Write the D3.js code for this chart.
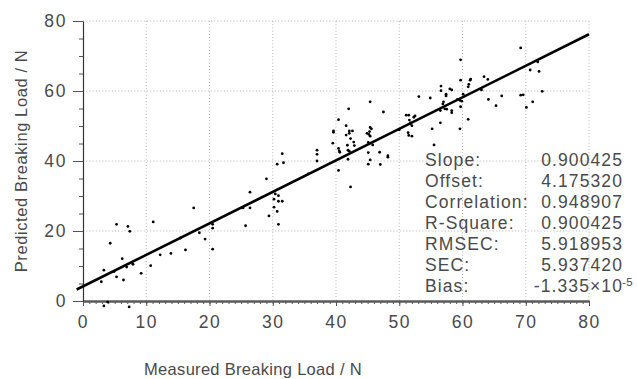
<!DOCTYPE html>
<html>
<head>
<meta charset="utf-8">
<script src="https://cdn.jsdelivr.net/npm/d3@7"></script>
<style>
  body { margin: 0; background: #fff; }
  text { font-family: "Liberation Sans", Arial, sans-serif; fill: #4a4a4a; }
</style>
</head>
<body>
<div id="chart"></div>
<script>

// --------------------------------------
//  Data
// --------------------------------------

// measured vs predicted breaking load (N)
const measured = [
  2.9, 3.3, 4.3, 5.3, 4.9, 5.3, 6.2, 6.4, 6.9, 7.1, 7.4, 7.9, 9.2, 10.7, 11.1, 12.2, 13.9, 15.4, 16.2, 17.5,
  18.4, 19.3, 20.5, 20.5, 20.5, 3.3, 3.9, 7.3,
  31.5, 30.7, 31.7, 37.0, 37.0, 37.0, 29.0, 26.4, 30.4, 30.9, 30.2, 30.9, 31.5, 25.3, 26.4, 30.2, 30.7, 29.4,
  25.7, 30.9, 35.6,
  45.4, 42.0, 47.5, 53.1, 40.4, 41.6, 39.6, 39.6, 42.1, 42.6, 42.1, 45.4, 45.6, 45.3, 44.9, 45.2, 45.4, 39.5,
  41.6, 42.3, 42.8, 42.9, 41.8, 40.4, 40.5, 40.6, 41.9, 42.1, 45.1, 45.8, 45.1, 46.9, 48.2, 48.2, 45.4, 45.1,
  47.0, 41.9, 40.4, 42.3, 50.0, 51.1, 51.5, 51.6, 51.8, 52.0, 51.4, 51.5, 52.0, 52.5,
  59.7, 59.7, 61.2, 61.3, 61.0, 60.9, 63.4, 64.0, 56.6, 56.6, 58.0, 58.3, 57.4, 57.4, 54.9, 63.0, 60.1, 64.1,
  65.3, 57.0, 56.9, 59.2, 59.6, 59.9, 59.7, 57.2, 57.5, 58.3, 58.3, 56.5, 52.3, 51.7, 55.2, 56.5, 59.6, 60.9,
  55.5,
  69.2, 71.9, 70.7, 72.1, 72.6, 66.2, 69.2, 69.6, 71.1, 70.1
];

const predicted = [
  5.5, 8.8, 16.5, 21.9, 8.4, 6.9, 12.1, 6.0, 9.7, 21.3, 19.9, 10.5, 7.9, 10.1, 22.6, 13.2, 13.6, 18.0, 14.6, 26.6,
  19.5, 17.7, 21.9, 20.8, 14.8, -1.4, -0.3, -1.7,
  42.1, 39.1, 39.5, 43.1, 41.9, 40.0, 34.9, 31.1, 30.6, 30.1, 29.1, 28.5, 28.5, 26.6, 26.6, 26.8, 25.6, 24.3,
  21.5, 21.9, 36.3,
  56.9, 54.9, 54.0, 58.4, 51.8, 50.1, 48.6, 48.2, 48.6, 48.6, 47.9, 49.6, 49.2, 48.4, 47.9, 47.6, 47.1, 45.1,
  47.4, 46.4, 45.4, 44.4, 44.5, 43.6, 42.9, 42.5, 43.1, 42.8, 45.3, 44.6, 42.4, 42.5, 41.5, 41.1, 40.3, 39.1,
  39.0, 40.5, 37.3, 32.6, 48.9, 53.1, 53.1, 51.7, 50.9, 50.1, 48.1, 47.3, 47.1, 52.9,
  68.9, 63.1, 63.1, 63.4, 61.9, 61.2, 64.1, 63.3, 61.4, 60.1, 60.6, 60.3, 59.1, 58.6, 58.0, 60.3, 59.1, 57.6,
  55.8, 56.9, 56.3, 57.6, 57.3, 57.1, 55.5, 54.9, 54.8, 54.4, 53.8, 54.4, 52.5, 50.6, 49.2, 50.9, 49.2, 51.9,
  44.6,
  72.3, 68.3, 66.0, 65.6, 59.9, 58.6, 58.8, 58.9, 56.9, 55.3
];

const slope = 0.900425;
const offset = 4.175320;
const fitRange = [-1, 80];

const statLabels = ["Slope:", "Offset:", "Correlation:", "R-Square:", "RMSEC:", "SEC:", "Bias:"];
const statValues = ["0.900425", "4.175320", "0.948907", "0.900425", "5.918953", "5.937420", "-1.335×10"];
const biasExponent = "-5";

const xMajor = [0, 10, 20, 30, 40, 50, 60, 70, 80];
const yMajor = [0, 20, 40, 60, 80];

const xTitle = "Measured Breaking Load / N";
const yTitle = "Predicted Breaking Load / N";

// --------------------------------------
//  Canvas
// --------------------------------------

const width = 637;
const height = 379;
const margin = {top: 21, right: 48, bottom: 78, left: 83};
const innerwidth = width - margin.left - margin.right;
const innerheight = height - margin.top - margin.bottom;

const svg = d3.select("#chart")
  .append("svg")
    .attr("width", width)
    .attr("height", height)
    .attr("viewBox", [0, 0, width, height]);

const innerChart = svg
  .append("g")
    .attr("transform", `translate(${margin.left}, ${margin.top})`);

// --------------------------------------
// Scales
// --------------------------------------

const x = d3.scaleLinear([0, 80], [0, innerwidth]);
const y = d3.scaleLinear([0, 80], [innerheight, 0]);

// --------------------------------------
// Grid
// --------------------------------------

innerChart.append("g")
  .selectAll("line")
  .data(xMajor.slice(1))
  .join("line")
    .attr("x1", d => x(d)).attr("x2", d => x(d))
    .attr("y1", 0).attr("y2", innerheight)
    .attr("stroke", "#b4b4b4")
    .attr("stroke-dasharray", "1,2.2");

innerChart.append("g")
  .selectAll("line")
  .data(yMajor.slice(1))
  .join("line")
    .attr("x1", 0).attr("x2", innerwidth)
    .attr("y1", d => y(d)).attr("y2", d => y(d))
    .attr("stroke", "#b4b4b4")
    .attr("stroke-dasharray", "1,2.2");

// --------------------------------------
//  Axes
// --------------------------------------

// minor ticks first
innerChart.append("g")
    .attr("transform", `translate(0, ${innerheight})`)
    .call(d3.axisBottom(x).tickValues(d3.range(0, 81, 1)).tickSize(3).tickFormat(""))
    .call(g => g.select(".domain").remove())
    .call(g => g.selectAll("line").attr("stroke", "#555"));

innerChart.append("g")
    .call(d3.axisLeft(y).tickValues(d3.range(0, 81, 5)).tickSize(4).tickFormat(""))
    .call(g => g.select(".domain").remove())
    .call(g => g.selectAll("line").attr("stroke", "#555"));

const xAxis = innerChart.append("g")
    .attr("class", "x-axis")
    .attr("transform", `translate(0, ${innerheight})`)
    .call(d3.axisBottom(x).tickValues(xMajor).tickSize(5).tickSizeOuter(0).tickPadding(10));

xAxis.select(".domain").attr("stroke", "#5a5a5a").attr("stroke-width", 2.5);
xAxis.selectAll("line").attr("stroke", "#555");
xAxis.selectAll("text")
    .attr("font-size", 17.5)
    .attr("letter-spacing", 1.6)
    .attr("fill", "#4a4a4a")
    .attr("font-family", null);

const yAxis = innerChart.append("g")
    .attr("class", "y-axis")
    .call(d3.axisLeft(y).tickValues(yMajor).tickSize(10).tickSizeOuter(0).tickPadding(6));

yAxis.select(".domain").attr("stroke", "#333").attr("stroke-width", 1.2);
yAxis.selectAll("line").attr("stroke", "#555");
yAxis.selectAll("text")
    .attr("font-size", 17.5)
    .attr("letter-spacing", 1.6)
    .attr("fill", "#4a4a4a")
    .attr("font-family", null);

svg.append("text")
    .attr("x", 253)
    .attr("y", 375)
    .attr("text-anchor", "middle")
    .attr("font-size", 16.5)
    .attr("letter-spacing", 0.3)
    .text(xTitle);

svg.append("text")
    .attr("transform", `translate(27, ${margin.top + innerheight / 2}) rotate(-90)`)
    .attr("text-anchor", "middle")
    .attr("font-size", 16.5)
    .attr("letter-spacing", 0.6)
    .text(yTitle);

// --------------------------------------
// Fit line and points
// --------------------------------------

const line = d3.line()
    .x(d => x(d))
    .y(d => y(slope * d + offset));

innerChart.append("path")
    .attr("d", line(fitRange))
    .attr("fill", "none")
    .attr("stroke", "#000")
    .attr("stroke-width", 2.6);

innerChart.append("g")
  .selectAll("circle")
  .data(d3.zip(measured, predicted))
  .join("circle")
    .attr("cx", d => x(d[0]))
    .attr("cy", d => y(d[1]))
    .attr("r", 1.4)
    .attr("fill", "#000");

// --------------------------------------
// Statistics box
// --------------------------------------

const stats = svg.append("g")
    .attr("font-size", 17.5)
    .attr("letter-spacing", 1.1);

stats.selectAll(".lab")
  .data(statLabels)
  .join("text")
    .attr("class", "lab")
    .attr("x", 425)
    .attr("y", (d, i) => 166 + i * 21)
    .text(d => d);

stats.selectAll(".val")
  .data(statValues)
  .join("text")
    .attr("class", "val")
    .attr("x", 623)
    .attr("y", (d, i) => 166 + i * 21)
    .attr("text-anchor", "end")
    .text(d => d);

stats.append("text")
    .attr("x", 622)
    .attr("y", 166 + 6 * 21 - 6)
    .attr("font-size", 11.5)
    .attr("letter-spacing", 0.5)
    .text(biasExponent);

</script>
</body>
</html>
